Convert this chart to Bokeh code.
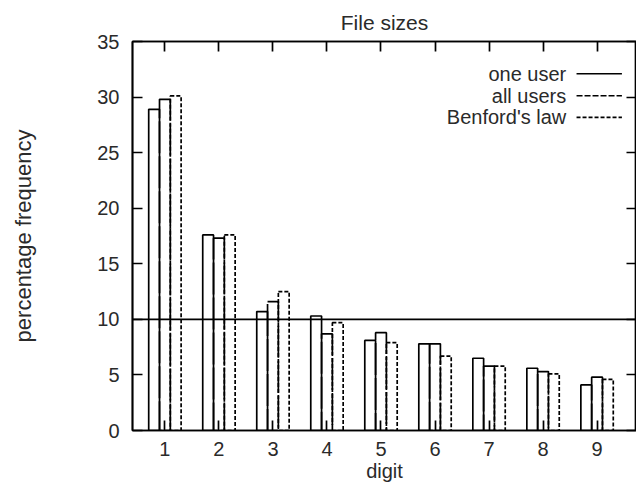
from bokeh.plotting import figure
from bokeh.models import ColumnDataSource, Range1d, LinearAxis, FixedTicker, Span
from bokeh.transform import dodge
from bokeh.core.properties import value
from bokeh.embed import file_html
from bokeh.resources import INLINE

# ---- data ----
digits = [1, 2, 3, 4, 5, 6, 7, 8, 9]
one_user = [28.9, 17.6, 10.7, 10.3, 8.1, 7.8, 6.5, 5.6, 4.1]
all_users = [29.8, 17.3, 11.6, 8.7, 8.8, 7.8, 5.8, 5.3, 4.8]
benford = [30.1, 17.6, 12.5, 9.7, 7.9, 6.7, 5.8, 5.1, 4.6]
reference_level = 10
series_names = ["one user", "all users", "Benford's law"]
y_ticks = [0, 5, 10, 15, 20, 25, 30, 35]

FONT = "Liberation Sans"
TXT = "#2a2a2a"
FS = "20px"
LW = 1.7
bar_dashes = ["solid", "32 3", "4 2"]
legend_dashes = ["solid", "6 2", "4 2"]

src = ColumnDataSource(dict(digit=digits, one=one_user, all=all_users, ben=benford))

p = figure(width=636, height=486, output_backend="svg", toolbar_location=None,
           x_range=Range1d(0.4, 9.73), y_range=Range1d(0, 35),
           min_border_left=132, min_border_right=0, min_border_top=41, min_border_bottom=56,
           title="File sizes")
p.title.align = "center"
p.title.text_font = FONT
p.title.text_font_size = "21px"
p.title.text_font_style = "normal"
p.title.text_color = TXT
p.title.standoff = 16
p.grid.visible = False
p.outline_line_color = "black"
p.outline_line_width = LW
p.background_fill_color = "white"
p.border_fill_color = "white"

def style_axis(ax):
    ax.major_tick_in = 10
    ax.major_tick_out = 0
    ax.minor_tick_in = 0
    ax.minor_tick_out = 0
    ax.major_tick_line_color = "black"
    ax.major_tick_line_width = LW
    ax.axis_line_color = "black"
    ax.axis_line_width = LW
    ax.major_label_text_font = FONT
    ax.major_label_text_color = TXT
    ax.major_label_text_font_size = FS

def mirror_axis(ticks):
    # label-free mirror axis: ticks drawn as minor ticks (which carry no labels)
    ax = LinearAxis(ticker=FixedTicker(ticks=[], minor_ticks=ticks))
    ax.major_tick_in = 0
    ax.major_tick_out = 0
    ax.minor_tick_in = 10
    ax.minor_tick_out = 0
    ax.minor_tick_line_color = "black"
    ax.minor_tick_line_width = LW
    ax.axis_line_color = "black"
    ax.axis_line_width = LW
    ax.major_label_standoff = 0
    return ax

xa = p.xaxis[0]
xa.ticker = FixedTicker(ticks=digits)
style_axis(xa)
xa.major_label_standoff = 11
xa.axis_label = "digit"
xa.axis_label_text_font = FONT
xa.axis_label_text_font_size = FS
xa.axis_label_text_font_style = "normal"
xa.axis_label_text_color = TXT
xa.axis_label_standoff = 1

ya = p.yaxis[0]
ya.ticker = FixedTicker(ticks=y_ticks)
style_axis(ya)
ya.major_label_standoff = 13
ya.axis_label = "percentage frequency"
ya.axis_label_text_font = FONT
ya.axis_label_text_font_size = "22px"
ya.axis_label_text_font_style = "normal"
ya.axis_label_text_color = TXT
ya.axis_label_standoff = 58

p.add_layout(mirror_axis(digits), "above")
p.add_layout(mirror_axis(y_ticks), "right")

# bars
cols = ["one", "all", "ben"]
offsets = [-0.2, 0.0, 0.2]
for col, off, dash in zip(cols, offsets, bar_dashes):
    p.vbar(x=dodge("digit", off, range=p.x_range), top=col, width=0.2, bottom=0,
           source=src, fill_color=None, line_color="black", line_width=LW, line_dash=dash)

p.add_layout(Span(location=reference_level, dimension="width", line_color="black", line_width=LW))

# legend (label on the left, sample on the right, gnuplot style)
leg_text_x = 8.43
leg_line_x0, leg_line_x1 = 8.62, 9.46
leg_y = [32.1, 30.12, 28.18]
p.text(x=[leg_text_x] * 3, y=leg_y, text=series_names, text_align="right",
       text_baseline="middle", text_font=value(FONT), text_font_size=FS, text_color=TXT)
for yy, dash in zip(leg_y, legend_dashes):
    p.segment(x0=[leg_line_x0], y0=[yy], x1=[leg_line_x1], y1=[yy],
              line_color="black", line_width=LW, line_dash=dash)

open("out.html", "w").write(file_html(p, INLINE))
